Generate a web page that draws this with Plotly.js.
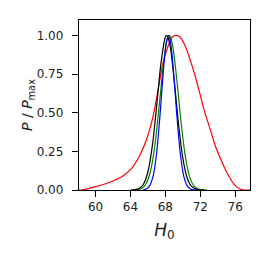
<!DOCTYPE html>
<html>
<head>
<meta charset="utf-8">
<script src="https://cdn.plot.ly/plotly-3.0.1.min.js"></script>
<style>html,body{margin:0;padding:0;background:#fff;}#chart{width:270px;height:262px;}</style>
</head>
<body>
<div id="chart"></div>
<script>
// Red curve (broad posterior)
const redH0 = [58.0, 58.4, 59.9, 61.45, 63.0, 64.13, 65.09, 65.86, 66.6, 67.19, 67.76, 68.34, 68.8, 69.22, 69.68, 70.25, 70.8, 71.4, 71.97, 72.5, 73.1, 73.7, 74.47, 75.2, 75.9, 76.5, 77.0, 77.8];
const redP  = [0.0, 0.0, 0.02, 0.047, 0.086, 0.14, 0.226, 0.33, 0.48, 0.656, 0.83, 0.935, 0.99, 1.0, 0.99, 0.935, 0.85, 0.74, 0.62, 0.505, 0.40, 0.29, 0.183, 0.097, 0.035, 0.008, 0.0, 0.0];
// Black curve
const blackH0 = [64.0, 64.5, 65.0, 65.5, 66.0, 66.5, 67.0, 67.5, 68.0, 68.15, 68.5, 69.0, 69.5, 70.0, 70.5, 71.0, 71.5, 72.0, 72.5];
const blackP  = [0.0, 0.002, 0.010, 0.039, 0.118, 0.284, 0.543, 0.823, 0.990, 1.0, 0.945, 0.716, 0.431, 0.206, 0.078, 0.023, 0.006, 0.001, 0.0];
// Green curve
const greenH0 = [64.3, 64.8, 65.3, 65.8, 66.3, 66.8, 67.3, 67.8, 68.2, 68.45, 68.8, 69.3, 69.8, 70.3, 70.8, 71.3, 71.8, 72.3, 72.8];
const greenP  = [0.0, 0.002, 0.011, 0.042, 0.123, 0.291, 0.549, 0.826, 0.972, 1.0, 0.946, 0.720, 0.437, 0.212, 0.082, 0.025, 0.006, 0.001, 0.0];
// Blue curve
const blueH0 = [65.4, 65.8, 66.2, 66.6, 67.0, 67.4, 67.8, 68.1, 68.35, 68.6, 68.9, 69.3, 69.7, 70.1, 70.5, 70.9, 71.2, 71.6];
const blueP  = [0.0, 0.006, 0.027, 0.091, 0.241, 0.494, 0.790, 0.953, 1.0, 0.953, 0.790, 0.494, 0.241, 0.091, 0.027, 0.006, 0.001, 0.0];

const xTicks = [60, 64, 68, 72, 76];
const xTickText = ['60', '64', '68', '72', '76'];
const yTicks = [0, 0.25, 0.5, 0.75, 1.0];
const yTickText = ['0.00', '0.25', '0.50', '0.75', '1.00'];

function line(x, y, color) {
  return {x: x, y: y, type: 'scatter', mode: 'lines',
          line: {color: color, width: 1.2, shape: 'spline', smoothing: 0.8}, hoverinfo: 'skip'};
}
const traces = [
  line(redH0, redP, '#ff0000'),
  line(greenH0, greenP, '#008000'),
  line(blackH0, blackP, '#000000'),
  line(blueH0, blueP, '#0000ff')
];
const font = {family: 'DejaVu Sans, sans-serif', size: 12, color: '#222'};
const layout = {
  width: 270, height: 262,
  margin: {l: 79, r: 20, t: 20, b: 72, pad: 0},
  paper_bgcolor: '#fff', plot_bgcolor: '#fff',
  showlegend: false,
  font: font,
  xaxis: {
    range: [58.1, 77.7], tickmode: 'array', tickvals: xTicks, ticktext: xTickText,
    ticks: 'outside', ticklen: 6, tickwidth: 1, tickcolor: '#000',
    showline: true, linecolor: '#000', linewidth: 1, mirror: true,
    showgrid: false, zeroline: false, tickfont: font,
    title: {text: '<i>H</i><sub>0</sub>', font: {family: 'DejaVu Sans, sans-serif', size: 17, color: '#222'}, standoff: 10}
  },
  yaxis: {
    range: [0, 1.1], tickmode: 'array', tickvals: yTicks,
    ticktext: yTickText.map(function (t) { return t + '\u00a0\u2009'; }),
    ticks: 'outside', ticklen: 6, tickwidth: 1, tickcolor: '#000',
    showline: true, linecolor: '#000', linewidth: 1, mirror: true,
    showgrid: false, zeroline: false, tickfont: font,
    title: {text: '<i>P</i> / <i>P</i><sub>max</sub>', font: {family: 'DejaVu Sans, sans-serif', size: 14, color: '#222'}, standoff: 0}
  }
};
Plotly.newPlot('chart', traces, layout, {staticPlot: true, displayModeBar: false});
</script>
</body>
</html>
